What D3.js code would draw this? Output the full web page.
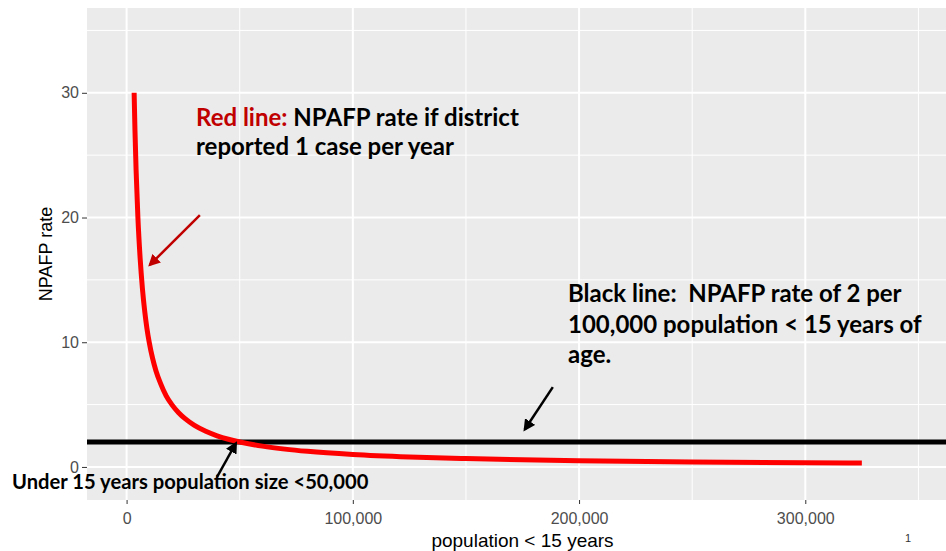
<!DOCTYPE html>
<html>
<meta charset="utf-8">
<style>

body {
  margin: 0;
  background: #fff;
}

svg {
  display: block;
  font-family: "Liberation Sans", Arial, sans-serif;
}

.panel {
  fill: #ebebeb;
}

.grid-major {
  stroke: #fff;
  stroke-width: 2px;
}

.grid-minor {
  stroke: #fff;
  stroke-width: 1px;
}

.axis path {
  display: none;
}

.axis line {
  stroke: #333;
}

.axis text {
  fill: #4d4d4d;
  font-size: 16px;
}

.title {
  fill: #000;
  font-size: 18px;
}

.note {
  font-family: Lato, "Open Sans", sans-serif;
  font-weight: bold;
  font-size: 24px;
  fill: #000;
  white-space: pre;
}

.note.small {
  font-size: 20.2px;
}

.note .red {
  fill: #c00000;
}

</style>
<body>
<script src="https://d3js.org/d3.v7.min.js"></script>
<script>

// population < 15 years and the rate if one case is reported per year
var population = [3333, 3700, 4200, 5000, 6000, 7000, 8000, 9000, 10000, 11500, 13000,
    15000, 17500, 20000, 23000, 26000, 30000, 35000, 40000, 45000, 50000, 60000,
    70000, 80000, 100000, 125000, 150000, 175000, 200000, 250000, 300000, 325000];
var rate = [30, 27, 23.8, 20, 16.7, 14.3, 12.5, 11.1, 10, 8.7, 7.7,
    6.7, 5.7, 5, 4.35, 3.85, 3.33, 2.86, 2.5, 2.22, 2, 1.67,
    1.43, 1.25, 1, 0.8, 0.67, 0.57, 0.5, 0.4, 0.33, 0.31];
var benchmark = 2;

var xTicks = [0, 100000, 200000, 300000],
    xMinor = [50000, 150000, 250000, 350000],
    yTicks = [0, 10, 20, 30],
    yMinor = [5, 15, 25, 35];

var xLimits = [-17500, 367500],
    yLimits = [-2.65, 36.8];

var width = 946,
    height = 551,
    panel = {left: 87, top: 8, right: 958, bottom: 500};

var svg = d3.select("body").append("svg")
    .attr("width", width)
    .attr("height", height);

var x = d3.scaleLinear()
    .domain(xLimits)
    .range([panel.left, panel.right]);

var y = d3.scaleLinear()
    .domain(yLimits)
    .range([panel.bottom, panel.top]);

var defs = svg.append("defs");

[["head-red", "#c00000"], ["head-black", "#000"]].forEach(function(m) {
  defs.append("marker")
      .attr("id", m[0])
      .attr("viewBox", "0 0 10 10")
      .attr("refX", 8)
      .attr("refY", 5)
      .attr("markerUnits", "userSpaceOnUse")
      .attr("markerWidth", 12)
      .attr("markerHeight", 12)
      .attr("orient", "auto")
    .append("path")
      .attr("d", "M 0 0 L 10 5 L 0 10 z")
      .attr("fill", m[1]);
});

svg.append("rect")
    .attr("class", "panel")
    .attr("x", panel.left)
    .attr("y", panel.top)
    .attr("width", panel.right - panel.left)
    .attr("height", panel.bottom - panel.top);

svg.selectAll(".grid-minor.h")
    .data(yMinor)
  .enter().append("line")
    .attr("class", "grid-minor h")
    .attr("x1", panel.left)
    .attr("x2", panel.right)
    .attr("y1", y)
    .attr("y2", y);

svg.selectAll(".grid-minor.v")
    .data(xMinor)
  .enter().append("line")
    .attr("class", "grid-minor v")
    .attr("x1", x)
    .attr("x2", x)
    .attr("y1", panel.top)
    .attr("y2", panel.bottom);

svg.selectAll(".grid-major.h")
    .data(yTicks)
  .enter().append("line")
    .attr("class", "grid-major h")
    .attr("x1", panel.left)
    .attr("x2", panel.right)
    .attr("y1", y)
    .attr("y2", y);

svg.selectAll(".grid-major.v")
    .data(xTicks)
  .enter().append("line")
    .attr("class", "grid-major v")
    .attr("x1", x)
    .attr("x2", x)
    .attr("y1", panel.top)
    .attr("y2", panel.bottom);

svg.append("g")
    .attr("class", "y axis")
    .attr("transform", "translate(" + panel.left + ",0)")
    .call(d3.axisLeft(y).tickValues(yTicks).tickSize(5).tickPadding(3));

svg.append("g")
    .attr("class", "x axis")
    .attr("transform", "translate(0," + panel.bottom + ")")
    .call(d3.axisBottom(x).tickValues(xTicks).tickSize(4).tickPadding(9).tickFormat(d3.format(",")));

svg.append("text")
    .attr("class", "title")
    .attr("x", (panel.left + panel.right) / 2)
    .attr("y", 547)
    .attr("text-anchor", "middle")
    .style("font-size", "19px")
    .text("population < 15 years");

svg.append("text")
    .attr("class", "title")
    .attr("transform", "translate(52," + (panel.top + panel.bottom) / 2 + ") rotate(-90)")
    .attr("text-anchor", "middle")
    .text("NPAFP rate");

// black line: benchmark rate
svg.append("line")
    .attr("x1", panel.left)
    .attr("x2", panel.right)
    .attr("y1", y(benchmark))
    .attr("y2", y(benchmark))
    .attr("stroke", "#000")
    .attr("stroke-width", 5);

// red line: one case per year
var line = d3.line()
    .x(function(d, i) { return x(population[i]); })
    .y(function(d) { return y(d); })
    .curve(d3.curveMonotoneX);

svg.append("path")
    .datum(rate)
    .attr("d", line)
    .attr("fill", "none")
    .attr("stroke", "#ff0000")
    .attr("stroke-width", 5);

// annotations, placed in data units
var arrows = [
  {from: [32400, 20.2], to: [10300, 16.2], color: "#c00000", head: "head-red"},
  {from: [40000, -0.8], to: [48300, 1.9], color: "#000", head: "head-black"},
  {from: [188400, 6.4], to: [176000, 3.0], color: "#000", head: "head-black"}
];

svg.selectAll(".arrow")
    .data(arrows)
  .enter().append("line")
    .attr("class", "arrow")
    .attr("x1", function(d) { return x(d.from[0]); })
    .attr("y1", function(d) { return y(d.from[1]); })
    .attr("x2", function(d) { return x(d.to[0]); })
    .attr("y2", function(d) { return y(d.to[1]); })
    .attr("stroke", function(d) { return d.color; })
    .attr("stroke-width", 2.5)
    .attr("marker-end", function(d) { return "url(#" + d.head + ")"; });

var red = svg.append("text")
    .attr("class", "note")
    .attr("x", 196)
    .attr("y", 126);
red.append("tspan").attr("class", "red").text("Red line: ");
red.append("tspan").text("NPAFP rate if district");

svg.append("text")
    .attr("class", "note")
    .attr("x", 196)
    .attr("y", 155)
    .text("reported 1 case per year");

svg.selectAll(".black-note")
    .data(["Black line:  NPAFP rate of 2 per", "100,000 population < 15 years of", "age."])
  .enter().append("text")
    .attr("class", "note black-note")
    .attr("x", 568)
    .attr("y", function(d, i) { return 302 + i * 30.5; })
    .text(function(d) { return d; });

svg.append("text")
    .attr("class", "note small")
    .attr("x", 12)
    .attr("y", 489)
    .text("Under 15 years population size <50,000");

svg.append("text")
    .attr("x", 908)
    .attr("y", 542)
    .attr("text-anchor", "middle")
    .attr("font-size", 11)
    .attr("fill", "#333")
    .text("1");

</script>
</body>
</html>
